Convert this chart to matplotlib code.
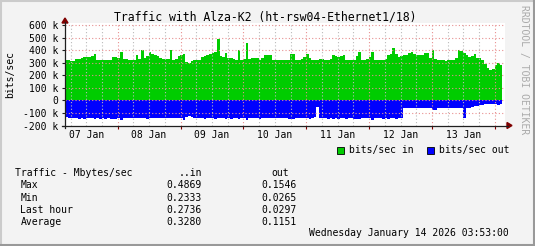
import numpy as np
import matplotlib.pyplot as plt
from matplotlib.lines import Line2D
from matplotlib.patches import Rectangle, Polygon

# Hourly averages, kbit/s, starting Wed 07 Jan 03:53
in_k = [
    320, 320, 315, 315, 330, 331, 340, 345, 347, 347, 350, 373, 320, 322, 320, 318, 322, 320, 345, 347, 340, 387, 333, 330,
    320, 318, 325, 360, 330, 400, 340, 352, 387, 373, 365, 355, 341, 328, 333, 330, 400, 325, 330, 355, 360, 368, 305, 299,
    310, 318, 320, 320, 347, 355, 360, 373, 379, 383, 487, 352, 345, 379, 340, 339, 333, 320, 400, 325, 330, 453, 333, 335,
    341, 335, 325, 340, 360, 360, 360, 320, 325, 325, 325, 325, 325, 325, 368, 368, 320, 320, 330, 347, 373, 335, 320, 320,
    325, 328, 333, 325, 320, 330, 360, 350, 347, 355, 360, 320, 320, 320, 320, 350, 387, 320, 320, 330, 345, 387, 325, 322,
    320, 320, 330, 360, 373, 419, 370, 347, 355, 360, 365, 375, 387, 373, 365, 360, 365, 375, 379, 341, 400, 330, 320, 320,
    318, 316, 318, 325, 325, 335, 400, 395, 379, 360, 347, 355, 373, 341, 341, 320, 293, 255, 240, 252, 280, 299, 280,
]
out_k = [
    135, 138, 138, 138, 138, 150, 138, 150, 138, 138, 138, 150, 138, 150, 138, 150, 138, 150, 150, 150, 138, 154, 138, 138,
    138, 138, 138, 138, 138, 138, 138, 150, 138, 138, 138, 138, 138, 138, 138, 138, 138, 138, 138, 138, 138, 154, 130, 128,
    130, 138, 138, 138, 138, 150, 138, 138, 138, 150, 138, 138, 138, 150, 138, 150, 138, 138, 150, 138, 138, 154, 138, 138,
    138, 138, 150, 138, 138, 138, 138, 138, 138, 138, 138, 138, 138, 150, 150, 145, 138, 138, 138, 138, 138, 150, 138, 130,
    56, 138, 138, 138, 150, 138, 150, 138, 150, 138, 138, 150, 138, 138, 150, 150, 150, 138, 138, 138, 138, 154, 138, 138,
    138, 150, 140, 145, 140, 140, 145, 140, 138, 61, 57, 60, 60, 60, 62, 60, 60, 60, 60, 60, 75, 80, 60, 60,
    60, 60, 60, 60, 60, 62, 60, 60, 141, 60, 58, 55, 48, 45, 40, 35, 30, 27, 27, 27, 28, 38, 30,
]
day_labels = ["07 Jan", "08 Jan", "09 Jan", "10 Jan", "11 Jan", "12 Jan", "13 Jan"]
y_ticks = [-200, -100, 0, 100, 200, 300, 400, 500, 600]
y_labels = ["-200 k", "-100 k", "0", "100 k", "200 k", "300 k", "400 k", "500 k", "600 k"]

row_names = ["Max", "Min", "Last hour", "Average"]
in_stats = ["0.4869", "0.2333", "0.2736", "0.3280"]
out_stats = ["0.1546", "0.0265", "0.0297", "0.1151"]

W, H = 535, 246
MONO = "DejaVu Sans Mono"
plt.rcParams["font.family"] = MONO


def fx(x):
    return x / W


def fy(y):
    return 1 - y / H


fig = plt.figure(figsize=(W / 100, H / 100), dpi=100, facecolor="#F3F3F3")

# plot area in pixels: x 65..505, y 22.5..125.5
ax = fig.add_axes([fx(65), fy(125.5), 440 / W, 103 / H])
ax.set_facecolor("white")

start = 3 + 53 / 60  # hours after 07 Jan 00:00
edges = start + np.arange(len(in_k) + 1)
ax.stairs(in_k, edges, fill=True, color="#00CC00", baseline=0, linewidth=0)
ax.stairs(-np.array(out_k), edges, fill=True, color="#0000FF", baseline=0, linewidth=0)

ax.set_xlim(start, start + 168)
ax.set_ylim(-200, 620)

# grid: 6h minor, midnight major, 100k horizontal
for h in range(6, 172, 6):
    if h % 24:
        ax.axvline(h, color="#BBBBBB", linestyle=(0, (1, 2)), linewidth=0.8, zorder=5)
for h in range(24, 172, 24):
    ax.axvline(h, color="#E89090", linestyle=(0, (1, 2)), linewidth=0.8, zorder=5)
for v in y_ticks[1:]:
    ax.axhline(v, color="#E89090", linestyle=(0, (1, 2)), linewidth=0.8, zorder=5)

ax.set_yticks(y_ticks)
ax.set_yticklabels(y_labels, fontsize=7)
ax.set_xticks(list(range(24, 172, 24)))
ax.set_xticklabels([])
ax.set_xticks([12 + 24 * i for i in range(7)], minor=True)
ax.set_xticklabels(day_labels, minor=True, fontsize=7)
ax.tick_params(axis="y", length=2.5, width=0.8, pad=2.5, color="#1F1F1F")
ax.tick_params(axis="x", which="major", length=2.5, width=0.8, color="#7F0000")
ax.tick_params(axis="x", which="minor", length=0, pad=3.5)

for s in ax.spines.values():
    s.set_visible(False)

# axis lines with arrows
fig.add_artist(Line2D([fx(62), fx(508)], [fy(125.5), fy(125.5)], color="#1F1F1F", linewidth=0.9))
fig.add_artist(Line2D([fx(65), fx(65)], [fy(128), fy(22)], color="#1F1F1F", linewidth=0.9))
fig.add_artist(Polygon([[fx(507), fy(122.5)], [fx(512), fy(125.5)], [fx(507), fy(128.5)]],
                       closed=True, color="#7F0000"))
fig.add_artist(Polygon([[fx(62), fy(23)], [fx(65), fy(18)], [fx(68), fy(23)]],
                       closed=True, color="#7F0000"))

fig.text(fx(265.5), fy(17), "Traffic with Alza-K2 (ht-rsw04-Ethernet1/18)",
         ha="center", va="center", fontsize=8.3)
fig.text(fx(10), fy(74), "bits/sec", rotation=90, ha="center", va="center", fontsize=7)
fig.text(fx(524), fy(5), "RRDTOOL / TOBI OETIKER", rotation=270, ha="center", va="top",
         fontsize=7, color="#AAAAAA")

# legend
fig.add_artist(Rectangle((fx(337), fy(153.5)), 6.5 / W, 6.5 / H, facecolor="#00CC00",
                         edgecolor="black", linewidth=0.6))
fig.text(fx(349), fy(150), "bits/sec in", va="center", fontsize=7)
fig.add_artist(Rectangle((fx(427), fy(153.5)), 6.5 / W, 6.5 / H, facecolor="#0000FF",
                         edgecolor="black", linewidth=0.6))
fig.text(fx(439), fy(150), "bits/sec out", va="center", fontsize=7)

# stats table
fig.text(fx(15), fy(173.5), "Traffic - Mbytes/sec", va="center", fontsize=7)
fig.text(fx(202), fy(173.5), "..in", ha="right", va="center", fontsize=7)
fig.text(fx(289), fy(173.5), "out", ha="right", va="center", fontsize=7)
for i, name in enumerate(row_names):
    y = 185.5 + 12.1 * i
    fig.text(fx(20.5), fy(y), name, va="center", fontsize=7)
    fig.text(fx(202), fy(y), in_stats[i], ha="right", va="center", fontsize=7)
    fig.text(fx(297), fy(y), out_stats[i], ha="right", va="center", fontsize=7)

fig.text(fx(509), fy(233.5), "Wednesday January 14 2026 03:53:00", ha="right", va="center", fontsize=7)

# canvas shading border
fig.add_artist(Line2D([0, 1], [fy(0.5), fy(0.5)], color="#CBCBCB", linewidth=1.5))
fig.add_artist(Line2D([fx(0.5), fx(0.5)], [0, 1], color="#CBCBCB", linewidth=1.5))
fig.add_artist(Line2D([0, 1], [fy(245), fy(245)], color="#999999", linewidth=1.5))
fig.add_artist(Line2D([fx(534), fx(534)], [0, 1], color="#999999", linewidth=1.5))

fig.savefig("out.png", dpi=100, facecolor=fig.get_facecolor())
plt.close(fig)
